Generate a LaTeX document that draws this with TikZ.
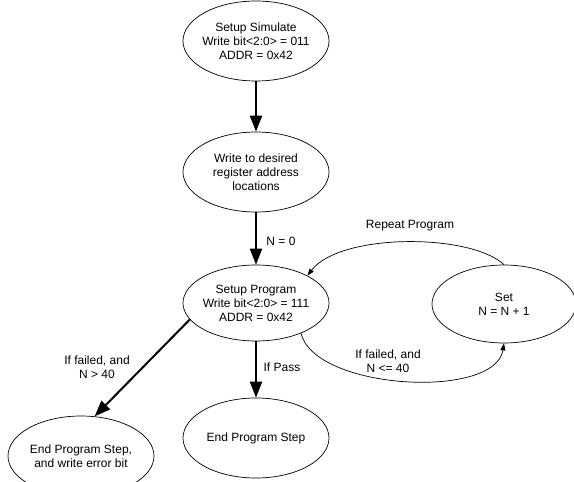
\documentclass[tikz,border=0pt]{standalone}
\usepackage{fontspec}
\setmainfont{Liberation Sans}
\usetikzlibrary{shapes.geometric, arrows.meta, positioning}
\tikzstyle{state} = [ellipse, draw=black, line width=0.7pt, text centered, align=center, inner ysep=0pt, inner xsep=-15pt, minimum width=146pt, minimum height=78pt, font=\fontsize{12}{14}\selectfont]
\tikzstyle{label_text} = [align=center, font=\fontsize{12}{14}\selectfont]
\tikzstyle{main_step} = [line width=2pt, black, -{Triangle[length=16pt, width=12pt]}]
\tikzstyle{loop_step} = [line width=0.7pt, black, -{Triangle[length=7pt, width=5pt]}]

\begin{document}
\begin{tikzpicture}[x=1pt, y=1pt]
    \useasboundingbox (0,0) rectangle (574,-482);

    \node (simulate) [state, minimum height=80pt] at (256,-41) {Setup Simulate\\Write bit<2:0> = 011\\ADDR = 0x42};
    \node (desired) [state, minimum height=80pt] at (256,-172) {Write to desired\\register address\\locations};
    \node (program) [state, minimum height=76pt] at (256,-303) {Setup Program\\Write bit<2:0> = 111\\ADDR = 0x42};
    \node (setn) [state, minimum width=144pt] at (504,-304) {Set\\N = N + 1};
    \node (pass) [state, minimum height=80pt] at (256,-438) {End Program Step};
    \node (fail) [state, minimum height=80pt] at (81,-456) {End Program Step,\\and write error bit};

    \draw [main_step] (simulate) -- (desired);
    \draw [main_step] (desired) -- (program);
    \draw [main_step] (program) -- (pass);
    \draw [main_step] (program.194) -- (fail.71);

    \node (n_zero) [label_text] at (281,-241) {N = 0};
    \node (if_pass) [label_text] at (282,-367) {If Pass};
    \node (if_big) [label_text] at (97,-367) {If failed, and\\N > 40};

    % loop round the Set state
    \draw [loop_step] (setn.north) .. controls (470,-233) and (340,-233) .. (program.28);
    \draw [loop_step] (program.-34) .. controls (315,-390) and (495,-400) .. (setn.south);

    \node (repeat) [label_text] at (410,-226) {Repeat Program};
    \node (if_small) [label_text] at (388,-361) {If failed, and\\N <= 40};

\end{tikzpicture}
\end{document}
